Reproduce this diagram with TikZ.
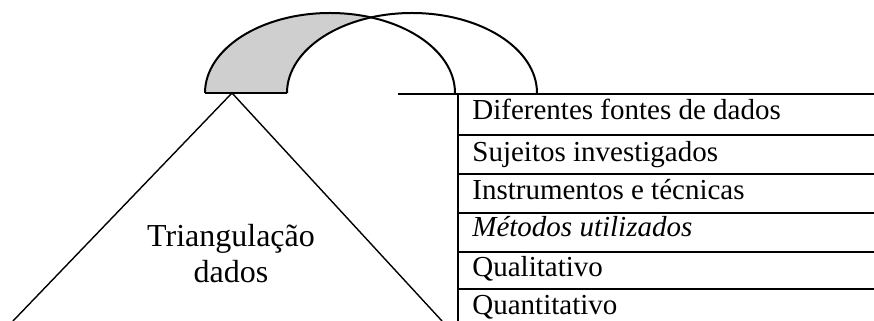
\documentclass[tikz,border=0pt]{standalone}
\usepackage{fontspec}
\setmainfont{Liberation Serif}
\begin{document}
\begin{tikzpicture}[x=0.5pt, y=0.5pt,
  row/.style={anchor=base west,inner sep=0pt,font=\fontsize{14.5}{17}\selectfont},
  tri/.style={anchor=base,inner sep=0pt,font=\fontsize{16}{18}\selectfont},
  rule/.style={line width=1.3pt},
  bow/.style={line width=1pt,x radius=125,y radius=80}]
\useasboundingbox (0,0) rectangle (874,321);
\fill[black!19] (205,228) -- (287,228) arc[start angle=180,end angle=109.03,x radius=125,y radius=80]
  arc[start angle=70.97,end angle=180,x radius=125,y radius=80] -- cycle;
\draw[bow] (205,228) arc[start angle=180,end angle=0];
\draw[bow] (287,228) arc[start angle=180,end angle=0];
\draw[bow] (205,228) -- (287,228);
\coordinate (apex) at (232,228);
\draw[line width=0.7pt] (13,0) -- (apex) -- (442,0);
\draw[rule] (398,227) -- (874,227);
\foreach \yy in {186,147,108,69,32} \draw[rule] (458,\yy) -- (874,\yy);
\draw[rule] (458,227) -- (458,0);
\node[row] (fontes) at (472,201) {Diferentes fontes de dados};
\node[row] (sujeitos) at (472,159) {Sujeitos investigados};
\node[row] (instr) at (472,121) {Instrumentos e técnicas};
\node[row] (metodos) at (472,84) {\itshape Métodos utilizados};
\node[row] (quali) at (472,44) {Qualitativo};
\node[row] (quanti) at (472,6) {Quantitativo};
\node[tri] (triang) at (231,74) {Triangulação};
\node[tri] (dados) at (231,38) {dados};
\end{tikzpicture}
\end{document}
